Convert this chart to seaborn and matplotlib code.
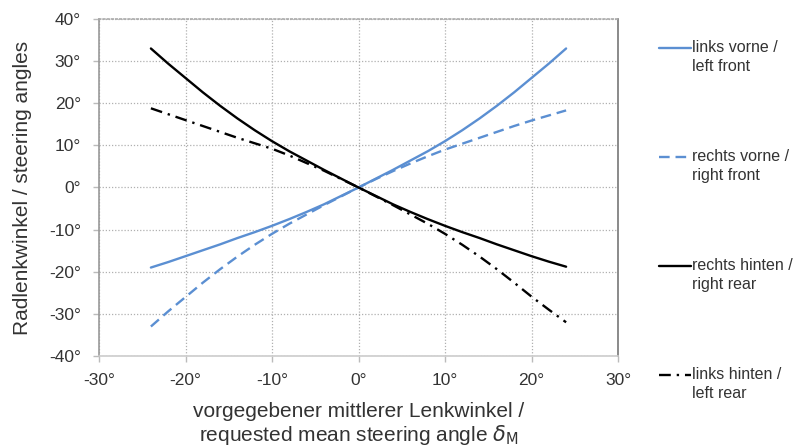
import matplotlib.pyplot as plt
import pandas as pd
import seaborn as sns
from matplotlib.lines import Line2D

# requested mean steering angle (deg)
delta_m = [-24, -22, -20, -18, -16, -14, -12, -10, -8, -6, -4, -2, 0,
           2, 4, 6, 8, 10, 12, 14, 16, 18, 20, 22, 24]

# wheel steering angles (deg)
links_vorne = [-19.0, -17.7, -16.3, -14.9, -13.5, -12.0, -10.6, -9.1, -7.5, -5.8, -4.0, -2.0, 0,
               2.1, 4.2, 6.4, 8.6, 11.0, 13.6, 16.4, 19.4, 22.6, 26.0, 29.4, 33.0]
rechts_vorne = [-33.0, -29.4, -26.0, -22.6, -19.4, -16.4, -13.6, -11.0, -8.6, -6.4, -4.2, -2.1, 0,
                2.0, 3.9, 5.7, 7.4, 9.0, 10.4, 11.8, 13.2, 14.6, 15.9, 17.1, 18.3]
rechts_hinten = [33.0, 29.4, 26.0, 22.6, 19.4, 16.4, 13.6, 11.0, 8.6, 6.4, 4.2, 2.1, 0,
                 -2.0, -4.0, -5.8, -7.5, -9.1, -10.6, -12.0, -13.5, -14.9, -16.3, -17.6, -18.8]
links_hinten = [18.8, 17.4, 16.0, 14.6, 13.2, 11.8, 10.5, 9.2, 7.6, 5.8, 4.0, 2.0, 0,
                -2.1, -4.2, -6.4, -8.6, -11.0, -13.6, -16.4, -19.4, -22.6, -25.9, -29.0, -32.0]

labels = ['links vorne /\nleft front', 'rechts vorne /\nright front',
          'rechts hinten /\nright rear', 'links hinten /\nleft rear']

df = pd.DataFrame({'delta': delta_m, 'lv': links_vorne, 'rv': rechts_vorne,
                   'rh': rechts_hinten, 'lh': links_hinten})

sns.set_style('white')
plt.rcParams['font.family'] = ['Liberation Sans', 'DejaVu Sans']
text_col = '#333333'
blue = '#5b8fd2'

fig = plt.figure(figsize=(7.95, 4.48), dpi=100)
ax = fig.add_axes([99 / 795, 1 - 356 / 448, 519 / 795, 337 / 448])

styles = [('lv', blue, '-'), ('rv', blue, (0, (4.5, 2.5))),
          ('rh', 'black', '-'), ('lh', 'black', (0, (5, 2.5, 1, 2.5)))]
for col, c, ls in styles:
    sns.lineplot(data=df, x='delta', y=col, ax=ax, color=c, linestyle=ls,
                 linewidth=1.7)

ax.set_xlim(-30, 30)
ax.set_ylim(-40, 40)
ax.set_xticks(range(-30, 31, 10))
ax.set_yticks(range(-40, 41, 10))
ax.set_xticklabels([f'{v}°' for v in range(-30, 31, 10)])
ax.set_yticklabels([f'{v}°' for v in range(-40, 41, 10)])
ax.tick_params(axis='both', labelsize=12.5, colors=text_col, length=4, width=1,
               direction='out', bottom=True, left=True)
ax.tick_params(axis='x', color='#bbbbbb', pad=8)
ax.tick_params(axis='y', color='#bbbbbb', pad=9)
ax.grid(True, color='#b0b0b0', linestyle=(0, (1, 1.5)), linewidth=0.9)
ax.spines['left'].set_color('#999999')
ax.spines['bottom'].set_color('#cccccc')
ax.spines['right'].set_color('#777777')
ax.spines['top'].set_color('#aaaaaa')
ax.spines['top'].set_linestyle((0, (1, 1.5)))
for s in ax.spines.values():
    s.set_linewidth(1.2)

ax.set_xlabel('vorgegebener mittlerer Lenkwinkel /\nrequested mean steering angle $\\delta_\\mathrm{M}$',
              fontsize=15, color=text_col, labelpad=10, linespacing=1.15)
ax.set_ylabel('Radlenkwinkel / steering angles', fontsize=15, color=text_col,
              labelpad=12)

# legend drawn beside the plot, handle on the first text line
leg_y = [48, 157, 266, 375]
for (col, c, ls), lab, y in zip(styles, labels, leg_y):
    yf = 1 - y / 448
    fig.add_artist(Line2D([659 / 795, 691 / 795], [yf, yf], color=c,
                          linestyle=ls, linewidth=1.7, transform=fig.transFigure))
    fig.text(692 / 795, yf + 8 / 448, lab, fontsize=11.5, color=text_col, va='top',
             ha='left', linespacing=1.3, transform=fig.transFigure)

fig.savefig('out.png', dpi=100)
